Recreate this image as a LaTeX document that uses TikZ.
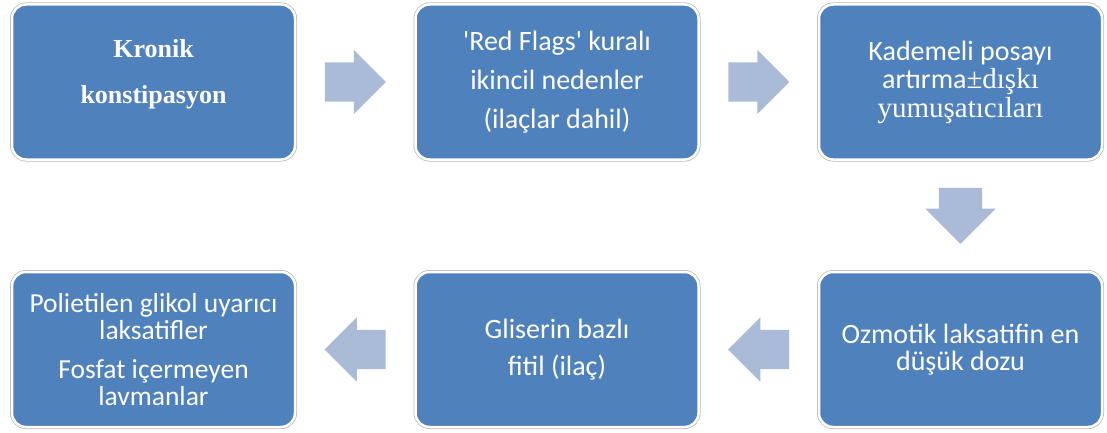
\documentclass[tikz,border=0pt]{standalone}
\usepackage{fontspec}
\setmainfont{Carlito}
\newfontfamily\timesfont{Liberation Serif}
\definecolor{BoxBlue}{RGB}{79,129,189}
\definecolor{ArrowBlue}{RGB}{170,187,216}
\definecolor{EdgeGray}{RGB}{185,185,185}
\usetikzlibrary{positioning, shapes.arrows, calc}

\begin{document}
\begin{tikzpicture}[x=1pt, y=1pt,
    stepbox/.style={rectangle, rounded corners=14pt, fill=BoxBlue, draw=white, line width=2.5pt,
        preaction={draw=EdgeGray, line width=4pt}, minimum width=283pt, minimum height=155pt,
        text=white, align=center, inner sep=4pt, font=\fontsize{28}{27}\selectfont},
    flowarrow/.style={single arrow, fill=ArrowBlue, draw=none, inner xsep=0pt, inner ysep=19.5pt,
        minimum height=61pt, single arrow head extend=12.5pt}]
    \useasboundingbox (0,0) rectangle (1107,-433);

    \node[stepbox, font=\timesfont\bfseries\fontsize{26}{30}\selectfont] (kronik) at (153.5,-82) {Kronik\\[16pt] konstipasyon\\[-8pt]\mbox{}};
    \node[stepbox, right=118pt of kronik] (redflags) {\textquotesingle Red Flags\textquotesingle{} kuralı\\[12pt] ikincil nedenler\\[12pt] (ilaçlar dahil)};
    \node[stepbox, right=118pt of redflags] (posa) {Kademeli posayı\\[1pt] artırma{\timesfont\fontsize{29}{27}\selectfont ±dışkı}\\[2pt] {\timesfont\fontsize{29}{27}\selectfont yumuşatıcıları}};
    \node[stepbox, below=110pt of posa] (ozmotik) {Ozmotik laksatifin en\\ düşük dozu};
    \node[stepbox, left=118pt of ozmotik] (gliserin) {Gliserin bazlı\\[10pt] fitil (ilaç)};
    \node[stepbox, left=118pt of gliserin, font=\fontsize{27.5}{27}\selectfont] (peg) {Polietilen glikol uyarıcı\\ laksatifler\\[12pt] Fosfat içermeyen\\ lavmanlar};

    % block arrows between the steps
    \node[flowarrow, anchor=tail] (a1) at ($(kronik.east)!0.5!(redflags.west)+(-30.5,0)$) {};
    \node[flowarrow, anchor=tail] (a2) at ($(redflags.east)!0.5!(posa.west)+(-30.5,0)$) {};
    \node[flowarrow, shape border rotate=270, anchor=tail, inner xsep=21.5pt, inner ysep=0pt, minimum height=56pt, single arrow head extend=13.5pt] (a3) at ($(posa.south)!0.5!(ozmotik.north)+(0,28)$) {};
    \node[flowarrow, shape border rotate=180, anchor=tail] (a4) at ($(ozmotik.west)!0.5!(gliserin.east)+(30.5,0)$) {};
    \node[flowarrow, shape border rotate=180, anchor=tail] (a5) at ($(gliserin.west)!0.5!(peg.east)+(30.5,0)$) {};
\end{tikzpicture}
\end{document}
